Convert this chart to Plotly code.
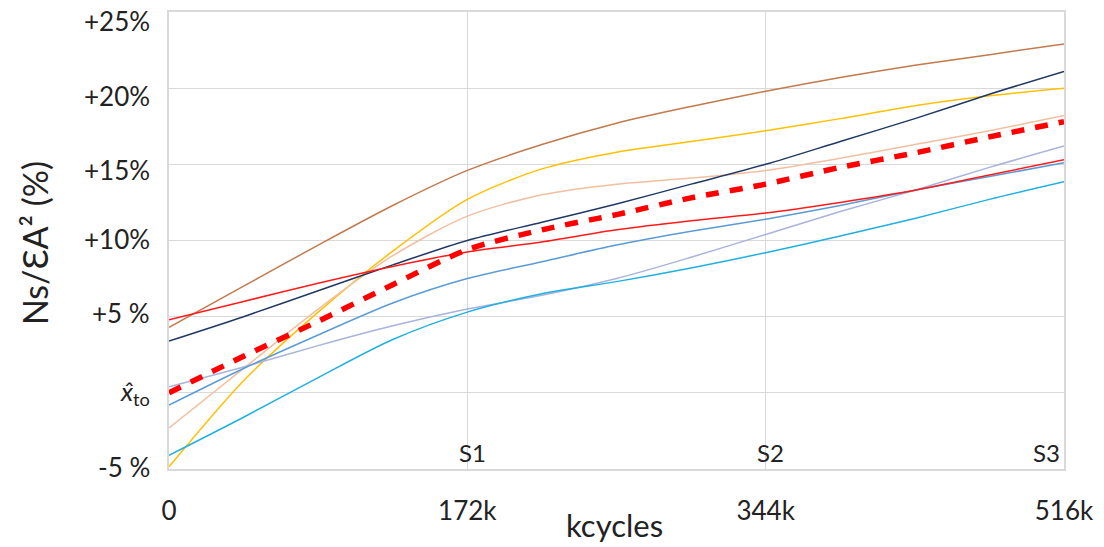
import plotly.graph_objects as go

kcycles = [0, 43, 86, 129, 172, 215, 258, 301, 344, 387, 430, 473, 516]

brown = [4.3, 7.0, 9.7, 12.3, 14.6, 16.3, 17.7, 18.8, 19.8, 20.7, 21.5, 22.2, 22.9]
gold = [-4.85, 0.8, 5.3, 9.3, 12.7, 14.7, 15.8, 16.5, 17.2, 18.0, 18.85, 19.5, 20.0]
tan = [-2.3, 1.6, 5.5, 9.0, 11.6, 13.0, 13.7, 14.1, 14.6, 15.4, 16.3, 17.2, 18.2]
navy = [3.4, 5.0, 6.7, 8.4, 10.0, 11.2, 12.4, 13.7, 15.0, 16.5, 18.0, 19.6, 21.1]
red = [4.8, 6.0, 7.2, 8.3, 9.25, 9.9, 10.7, 11.3, 11.8, 12.5, 13.3, 14.3, 15.3]
medblue = [-0.8, 1.6, 3.8, 5.9, 7.5, 8.6, 9.7, 10.6, 11.4, 12.3, 13.3, 14.2, 15.1]
lilac = [0.4, 1.7, 3.1, 4.4, 5.5, 6.4, 7.5, 8.9, 10.4, 11.9, 13.3, 14.8, 16.2]
cyan = [-4.1, -1.6, 1.0, 3.5, 5.3, 6.5, 7.3, 8.2, 9.2, 10.3, 11.45, 12.7, 13.85]
mean_dashed = [0.0, 2.4, 4.7, 7.1, 9.4, 10.7, 11.7, 12.8, 13.7, 14.8, 15.75, 16.8, 17.8]

y_tickvals = [-5, 0, 5, 10, 15, 20, 25]
y_ticktext = ["-5 %", "<i>x̂</i><sub>to</sub>", "+5 %", "+10%", "+15%", "+20%", "+25%"]
x_tickvals = [0, 172, 344, 516]
x_ticktext = ["0", "172k", "344k", "516k"]
stage_labels = ["S1", "S2", "S3"]
stage_x = [172, 344, 516]
x_title = "kcycles"
y_title = "Ns/ƐA² (%)"

# small vertical nudges (px) of the y labels, as placed in the original picture
y_label_nudge = [2, 0, 4, 2, -6, -8, -9]

series = [
    (brown, "#c27a4c", 1.5),
    (gold, "#ffc000", 1.5),
    (tan, "#f2bfa0", 1.5),
    (lilac, "#a9b3dc", 1.5),
    (cyan, "#1fb0e0", 1.5),
    (medblue, "#5b9bd5", 1.5),
    (navy, "#203864", 1.5),
    (red, "#ff1a1a", 1.5),
]

fig = go.Figure()
for vals, col, w in series:
    fig.add_trace(go.Scatter(x=kcycles, y=vals, mode="lines",
                             line=dict(color=col, width=w, shape="spline", smoothing=0.8),
                             showlegend=False, hoverinfo="skip"))
fig.add_trace(go.Scatter(x=kcycles, y=mean_dashed, mode="lines",
                         line=dict(color="#ff0000", width=5.5, dash="13px,11px", shape="spline", smoothing=0.8),
                         showlegend=False, hoverinfo="skip"))

font_family = "Lato, 'Open Sans', sans-serif"
grid = "#d9d9d9"
txt = "#222"

for i, (lab, xv) in enumerate(zip(stage_labels, stage_x)):
    last = i == len(stage_labels) - 1
    fig.add_annotation(x=xv, y=-5, text=lab, showarrow=False,
                       xanchor="right" if last else "center",
                       xshift=-2 if last else 5,
                       yanchor="bottom", yshift=0,
                       font=dict(family=font_family, size=24, color=txt))

for yv, lab, nudge in zip(y_tickvals, y_ticktext, y_label_nudge):
    fig.add_annotation(xref="paper", yref="y", x=0, y=yv, text=lab, showarrow=False,
                       xanchor="right", yanchor="middle", xshift=-17, yshift=nudge,
                       font=dict(family=font_family, size=26, color=txt))

fig.add_annotation(xref="paper", yref="paper", x=0.498, y=-0.123, text=x_title,
                   showarrow=False, xanchor="center", yanchor="middle",
                   font=dict(family=font_family, size=31, color=txt))
fig.add_annotation(xref="paper", yref="paper", x=-0.151, y=0.494, text=y_title,
                   showarrow=False, textangle=-90, xanchor="center", yanchor="middle",
                   font=dict(family=font_family, size=34, color=txt))

# the page body has an 8px margin, so the figure is drawn 8px in from the corner
fig.update_layout(
    width=1096, height=539,
    margin=dict(l=161, r=40, t=4, b=78),
    paper_bgcolor="white", plot_bgcolor="white",
    font=dict(family=font_family, color=txt),
    xaxis=dict(range=[0, 516], tickvals=x_tickvals, ticktext=x_ticktext,
               showgrid=True, gridcolor=grid, gridwidth=1,
               showline=True, linecolor=grid, linewidth=1.5, mirror=True,
               zeroline=False, ticks="", ticklabelstandoff=18,
               tickfont=dict(size=26), automargin=False,
               ticklabeloverflow="allow"),
    yaxis=dict(range=[-5, 25], tickvals=y_tickvals, showticklabels=False,
               showgrid=True, gridcolor=grid, gridwidth=1,
               showline=True, linecolor=grid, linewidth=1.5, mirror=True,
               zeroline=False, ticks="", automargin=False),
)

fig.write_html("out.html")
